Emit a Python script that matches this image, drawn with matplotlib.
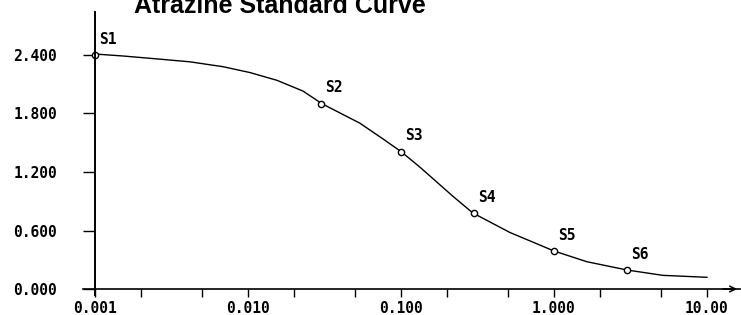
import matplotlib.pyplot as plt
from matplotlib.ticker import LogLocator, NullFormatter

# === DONNEES ===
std_names = ["S1", "S2", "S3", "S4", "S5", "S6"]
std_conc = [0.001, 0.03, 0.1, 0.3, 1.0, 3.0]
std_abs = [2.40, 1.90, 1.41, 0.78, 0.39, 0.195]

# courbe ajustee
curve_conc = [0.001, 0.00152, 0.00254, 0.00418, 0.00687, 0.0103, 0.0155, 0.0229,
              0.0305, 0.054, 0.0762, 0.1, 0.133, 0.219, 0.295, 0.515, 1.0,
              1.64, 3.0, 5.15, 10.0]
curve_abs = [2.41, 2.39, 2.36, 2.33, 2.28, 2.22, 2.14, 2.03,
             1.90, 1.70, 1.54, 1.41, 1.25, 0.95, 0.78, 0.58, 0.39,
             0.28, 0.195, 0.14, 0.12]

xticks = [0.001, 0.01, 0.1, 1.0, 10.0]
xlabels = ["0.001", "0.010", "0.100", "1.000", "10.00"]
yticks = [0.0, 0.6, 1.2, 1.8, 2.4]
ylabels = ["0.000", "0.600", "1.200", "1.800", "2.400"]

tick_font = dict(family="DejaVu Sans Mono", weight="bold", size=10.5)

# === FIGURE ===
fig = plt.figure(figsize=(7.41, 3.15), dpi=100)
ax = fig.add_axes([83 / 741, 20 / 315, 657 / 741, 283 / 315])
ax.set_xscale("log")
ax.set_xlim(10 ** -3.078, 10 ** 1.216)
ax.set_ylim(-0.0615, 2.841)

ax.plot(curve_conc, curve_abs, color="black", lw=1.0)
ax.plot(std_conc, std_abs, "o", ms=4.5, mfc="white", mec="black", mew=1.0)
for name, x, y in zip(std_names, std_conc, std_abs):
    ax.annotate(name, (x, y), xytext=(3, 6), textcoords="offset points",
                ha="left", va="bottom", **tick_font)

# axes style
for s in ["top", "right"]:
    ax.spines[s].set_visible(False)
ax.spines["left"].set_position(("data", 0.001))
ax.spines["bottom"].set_position(("data", 0.0))
ax.spines["left"].set_linewidth(1.4)
ax.spines["bottom"].set_linewidth(1.2)

ax.set_xticks(xticks, labels=xlabels)
ax.xaxis.set_minor_locator(LogLocator(base=10, subs=(2.0, 5.0)))
ax.xaxis.set_minor_formatter(NullFormatter())
ax.tick_params(axis="x", which="both", direction="out", length=5.8, width=1.0, pad=3)
ax.set_yticks(yticks, labels=ylabels)
ax.tick_params(axis="y", direction="out", length=8.6, width=1.0, pad=18.5)
for lab in ax.get_xticklabels() + ax.get_yticklabels():
    lab.set_fontfamily("DejaVu Sans Mono")
    lab.set_fontweight("bold")
    lab.set_fontsize(10.5)

# fleche au bout de l'axe x
ax.annotate("", xy=(1.0, 0.0), xytext=(0.97, 0.0),
            xycoords=("axes fraction", "data"), textcoords=("axes fraction", "data"),
            arrowprops=dict(arrowstyle="->", color="black", lw=1.2))

fig.text(280 / 741, 1 - 13 / 315, "Atrazine Standard Curve", ha="center", va="baseline",
         family="Liberation Sans", weight="bold", size=18)

plt.savefig("out.png", dpi=100)
plt.close()
